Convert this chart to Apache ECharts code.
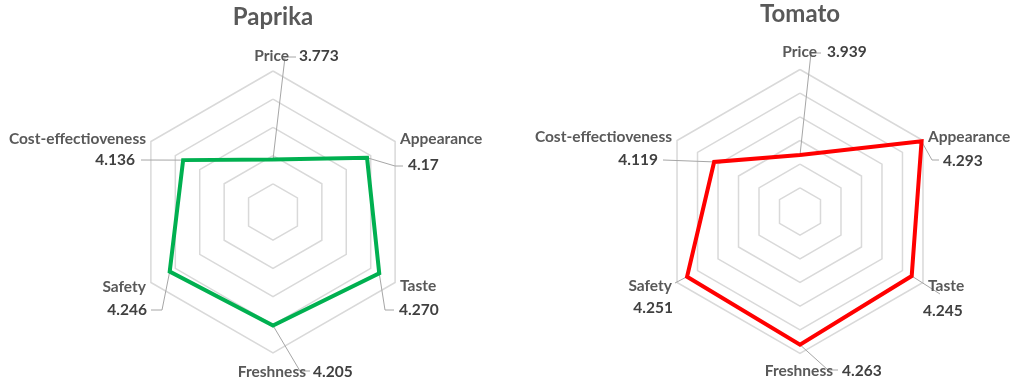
<!DOCTYPE html>
<html>
<head>
<meta charset="utf-8">
<script src="https://cdn.jsdelivr.net/npm/echarts@6/dist/echarts.min.js"></script>
<style>
  html, body { margin: 0; padding: 0; background: #ffffff; }
  #chart { width: 1017px; height: 382px; }
</style>
</head>
<body>
<div id="chart"></div>
<script>
// Survey scores per attribute, in clockwise order starting from the top
const categories = ['Price', 'Appearance', 'Taste', 'Freshness', 'Safety', 'Cost-effectioveness'];
const paprikaText = ['3.773', '4.17', '4.270', '4.205', '4.246', '4.136'];
const tomatoText = ['3.939', '4.293', '4.245', '4.263', '4.251', '4.119'];
const paprikaValues = paprikaText.map(Number);
const tomatoValues = tomatoText.map(Number);
// Axis ranges: [min, max, number of rings]
const paprikaAxis = [3.4, 4.4, 5];
const tomatoAxis = [3.7, 4.3, 6];

// ECharts lays radar indicators out counter-clockwise; this order keeps them clockwise
const ccwOrder = [0, 5, 4, 3, 2, 1];

const FONT = 'Lato, "Open Sans", sans-serif';
const LABEL_FONT = 'bold 15.5px ' + FONT;
const NAME_COLOR = '#595959';
const VALUE_COLOR = '#404040';
const LEADER_COLOR = '#a6a6a6';

// Label placement for each attribute: name, value and leader-line bend points
const panels = [
  {
    title: 'Paprika', titleX: 273, titleY: 17,
    center: [273, 212], radius: 141,
    axis: paprikaAxis, values: paprikaValues, text: paprikaText, color: '#00b050',
    labels: [
      { name: [289, 56, 'right'], value: [299, 56, 'left'], leader: [[285, 57], [296, 57]] },
      { name: [400, 139, 'left'], value: [408, 165, 'left'], leader: [[395, 166], [403, 166]] },
      { name: [400, 286, 'left'], value: [399, 310, 'left'], leader: [[385, 310], [394, 310]] },
      { name: [306, 372, 'right'], value: [313, 372, 'left'], leader: [[300, 371], [310, 371]] },
      { name: [146, 287, 'right'], value: [147, 310, 'right'], leader: [[162, 310], [151, 310]] },
      { name: [146, 139, 'right'], value: [135, 160, 'right'], leader: [[141, 160]] }
    ]
  },
  {
    title: 'Tomato', titleX: 800, titleY: 14,
    center: [800, 211.5], radius: 142,
    axis: tomatoAxis, values: tomatoValues, text: tomatoText, color: '#ff0000',
    labels: [
      { name: [817, 52, 'right'], value: [827, 52, 'left'], leader: [[811, 53], [821, 53]] },
      { name: [928, 137, 'left'], value: [943, 161, 'left'], leader: [[932, 160], [939, 160]] },
      { name: [928, 286, 'left'], value: [923, 311, 'left'], leader: [[940, 294]] },
      { name: [833, 371, 'right'], value: [842, 371, 'left'], leader: [[828, 370], [838, 370]] },
      { name: [672, 286, 'right'], value: [673, 308, 'right'], leader: [[675, 283]] },
      { name: [672, 137, 'right'], value: [658, 160, 'right'], leader: [[663, 160]] }
    ]
  }
];

const chart = echarts.init(document.getElementById('chart'), null, { renderer: 'canvas' });

const option = {
  animation: false,
  backgroundColor: '#ffffff',
  radar: panels.map(p => ({
    center: p.center,
    radius: p.radius,
    startAngle: 90,
    shape: 'polygon',
    splitNumber: p.axis[2],
    indicator: ccwOrder.map(i => ({ name: categories[i], min: p.axis[0], max: p.axis[1] })),
    axisName: { show: false },
    axisLine: { show: false },
    axisTick: { show: false },
    axisLabel: { show: false },
    splitArea: { show: false },
    splitLine: { lineStyle: { color: '#d9d9d9', width: 1.5 } }
  })),
  series: panels.map((p, k) => ({
    type: 'radar',
    radarIndex: k,
    symbol: 'none',
    z: 5,
    lineStyle: { color: p.color, width: 4, join: 'miter' },
    data: [{ name: p.title, value: ccwOrder.map(i => p.values[i]) }]
  }))
};

chart.setOption(option);

// Leader lines and data labels anchored on the radar's own data-to-pixel mapping
const elements = [];
panels.forEach((p, k) => {
  elements.push({
    type: 'text', x: p.titleX, y: p.titleY, z: 10,
    style: { text: p.title, font: 'bold 24px ' + FONT, fill: NAME_COLOR, align: 'center', verticalAlign: 'middle' }
  });
  const cs = chart.getModel().getComponent('radar', k).coordinateSystem;
  p.labels.forEach((lab, i) => {
    const axisIdx = ccwOrder.indexOf(i);
    const pt = cs.dataToPoint(p.values[i], axisIdx);
    elements.push({
      type: 'polyline', z: 1,
      shape: { points: [pt].concat(lab.leader) },
      style: { stroke: LEADER_COLOR, lineWidth: 1, fill: null }
    });
    elements.push({
      type: 'text', x: lab.name[0], y: lab.name[1], z: 10,
      style: { text: categories[i], font: LABEL_FONT, fill: NAME_COLOR, align: lab.name[2], verticalAlign: 'middle' }
    });
    elements.push({
      type: 'text', x: lab.value[0], y: lab.value[1], z: 10,
      style: { text: p.text[i], font: LABEL_FONT, fill: VALUE_COLOR, align: lab.value[2], verticalAlign: 'middle' }
    });
  });
});

chart.setOption({ graphic: { elements: elements } });
</script>
</body>
</html>
